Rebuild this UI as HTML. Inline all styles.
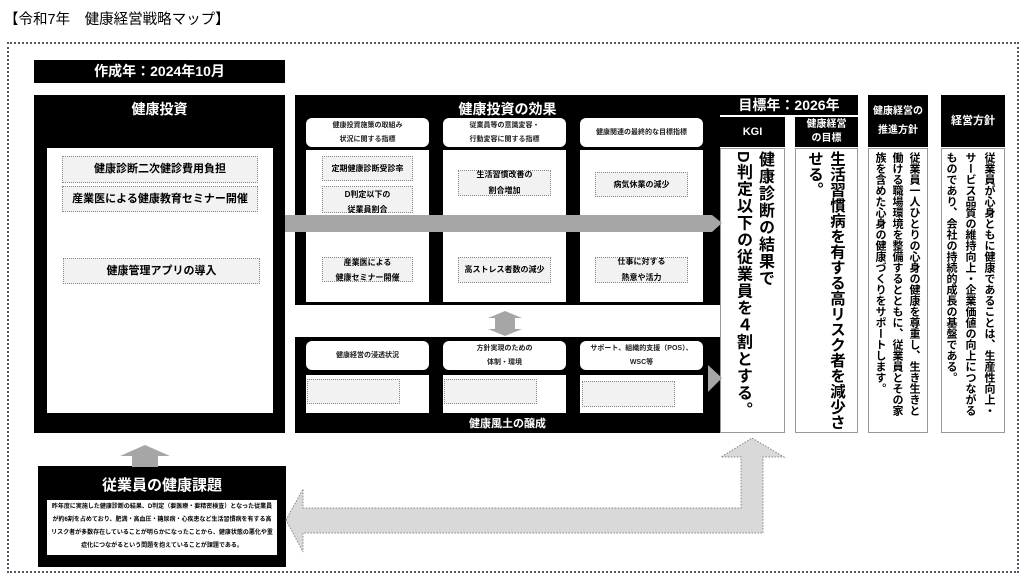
<!DOCTYPE html>
<html><head><meta charset="utf-8"><style>
*{margin:0;padding:0;box-sizing:border-box}
body{width:1024px;height:583px;background:#fff;position:relative;overflow:hidden;font-family:"Liberation Sans","Noto Sans CJK JP",sans-serif;color:#000}
.a{position:absolute}
.blk{background:#000;color:#fff;font-weight:bold;text-align:center}
.wh{background:#fff}
.it{position:absolute;background:#f2f2f2;border:1px dotted #888;font-size:8px;font-weight:bold;display:flex;align-items:center;justify-content:center;text-align:center;line-height:1.9;z-index:3}
.hd{position:absolute;background:#fff;border-radius:6px;font-size:7px;font-weight:bold;display:flex;align-items:center;justify-content:center;text-align:center;line-height:2;color:#222}
.v{position:absolute;writing-mode:vertical-rl;font-weight:bold;background:#fff;border:1px solid #999;white-space:nowrap}
</style></head><body>
<div class="a" style="left:4px;top:8px;font-size:14.5px">【令和7年　健康経営戦略マップ】</div>
<div class="a" style="left:7px;top:42px;width:1012px;height:531px;border:2px dotted #556"></div>

<div class="a blk" style="left:34px;top:60px;width:251px;height:23px;font-size:14px;line-height:23px">作成年：2024年10月</div>
<div class="a blk" style="left:34px;top:95px;width:251px;height:338px;font-size:14px;padding-top:4px">健康投資</div>
<div class="a wh" style="left:47px;top:148px;width:226px;height:265px"></div>
<div class="it" style="left:62px;top:156px;width:196px;height:27px;font-size:11px">健康診断二次健診費用負担</div>
<div class="it" style="left:62px;top:186px;width:196px;height:26px;font-size:11px">産業医による健康教育セミナー開催</div>
<div class="it" style="left:63px;top:258px;width:197px;height:26px;font-size:11px">健康管理アプリの導入</div>

<div class="a blk" style="left:38px;top:466px;width:248px;height:101px;font-size:15px;padding-top:8px">従業員の健康課題</div>
<div class="a wh" style="left:47px;top:500px;width:230px;height:55px;font-size:6px;font-weight:bold;line-height:13px;text-align:center;padding:1px 3px">昨年度に実施した健康診断の結果、D判定（要医療・要精密検査）となった従業員が約6割を占めており、肥満・高血圧・糖尿病・心疾患など生活習慣病を有する高リスク者が多数存在していることが明らかになったことから、健康状態の悪化や重症化につながるという問題を抱えていることが課題である。</div>

<div class="a blk" style="left:295px;top:95px;width:425px;height:210px;font-size:14px;padding-top:4px">健康投資の効果</div>
<div class="hd" style="left:306px;top:118px;width:123px;height:29px">健康投資施策の取組み<br>状況に関する指標</div>
<div class="hd" style="left:443px;top:118px;width:123px;height:29px">従業員等の意識変容・<br>行動変容に関する指標</div>
<div class="hd" style="left:580px;top:118px;width:123px;height:29px">健康関連の最終的な目標指標</div>
<div class="a wh" style="left:306px;top:150px;width:123px;height:152px"></div>
<div class="a wh" style="left:443px;top:150px;width:123px;height:152px"></div>
<div class="a wh" style="left:580px;top:150px;width:123px;height:152px"></div>
<div class="it" style="left:322px;top:156px;width:91px;height:25px">定期健康診断受診率</div>
<div class="it" style="left:322px;top:186px;width:91px;height:27px;align-items:flex-start;line-height:15px">D判定以下の<br>従業員割合</div>
<div class="it" style="left:322px;top:257px;width:91px;height:25px;line-height:15px">産業医による<br>健康セミナー開催</div>
<div class="it" style="left:458px;top:170px;width:93px;height:26px;line-height:16px">生活習慣改善の<br>割合増加</div>
<div class="it" style="left:458px;top:257px;width:93px;height:26px">高ストレス者数の減少</div>
<div class="it" style="left:595px;top:172px;width:93px;height:25px">病気休業の減少</div>
<div class="it" style="left:595px;top:257px;width:93px;height:26px;line-height:16px">仕事に対する<br>熱意や活力</div>

<div class="a blk" style="left:295px;top:337px;width:425px;height:96px"></div>
<div class="hd" style="left:306px;top:341px;width:123px;height:29px">健康経営の浸透状況</div>
<div class="hd" style="left:443px;top:341px;width:123px;height:29px">方針実現のための<br>体制・環境</div>
<div class="hd" style="left:580px;top:341px;width:123px;height:29px">サポート、組織的支援（POS）、<br>WSC等</div>
<div class="a wh" style="left:306px;top:375px;width:123px;height:38px"></div>
<div class="a wh" style="left:443px;top:375px;width:123px;height:38px"></div>
<div class="a wh" style="left:580px;top:375px;width:123px;height:38px"></div>
<div class="it" style="left:307px;top:379px;width:93px;height:25px"></div>
<div class="it" style="left:444px;top:379px;width:93px;height:25px"></div>
<div class="it" style="left:582px;top:381px;width:93px;height:26px"></div>
<div class="a" style="left:295px;top:415px;width:425px;text-align:center;color:#fff;font-weight:bold;font-size:11px">健康風土の醸成</div>

<div class="a blk" style="left:720px;top:95px;width:138px;height:20px;font-size:14px;line-height:20px">目標年：2026年</div>
<div class="a blk" style="left:720px;top:117px;width:65px;height:30px;font-size:11px;line-height:30px">KGI</div>
<div class="a blk" style="left:795px;top:117px;width:63px;height:30px;font-size:10px;line-height:14px;padding-top:1px">健康経営<br>の目標</div>
<div class="a blk" style="left:868px;top:95px;width:60px;height:52px;font-size:10px;line-height:19px;padding-top:7px">健康経営の<br>推進方針</div>
<div class="a blk" style="left:941px;top:95px;width:64px;height:52px;font-size:11px;line-height:52px">経営方針</div>

<div class="v" style="left:720px;top:148px;width:65px;height:285px;font-size:16px;line-height:22px;padding:2px 9px 0 0;letter-spacing:1px">健康診断の結果で<br>D判定以下の従業員を４割とする。</div>
<div class="v" style="left:795px;top:148px;width:63px;height:285px;font-size:15.5px;line-height:22px;padding:2px 10px 0 0">生活習慣病を有する高リスク者を減少さ<br>せる。</div>
<div class="v" style="left:868px;top:148px;width:60px;height:285px;font-size:11px;line-height:17px;padding:3px 5px 0 0">従業員一人ひとりの心身の健康を尊重し、生き生きと<br>働ける職場環境を整備するとともに、従業員とその家<br>族を含めた心身の健康づくりをサポートします。</div>
<div class="v" style="left:941px;top:148px;width:64px;height:285px;font-size:11px;line-height:19px;padding:3px 6px 0 0">従業員が心身ともに健康であることは、生産性向上・<br>サービス品質の維持向上・企業価値の向上につながる<br>ものであり、会社の持続的成長の基盤である。</div>

<svg class="a" style="left:0;top:0;z-index:5" width="1024" height="583">
<polygon points="145,445 170,456 158,456 158,467 132,467 132,456 120,456" fill="#a6a6a6"/>
<polygon points="285,215 712,215 722,223 712,232 285,232" fill="#a6a6a6"/>
<polygon points="505,311 522,318 515,318 515,329 522,329 505,336 488,329 495,329 495,318 488,318" fill="#a6a6a6"/>
<polygon points="708,365 722,378 708,392" fill="#a6a6a6"/>
<polygon points="286,520 303,489 303,508 741,508 741,457 721,457 752,438 784,457 763,457 763,533 303,533 303,552" fill="#d9d9d9" stroke="#888" stroke-dasharray="1.5,1.5" stroke-width="1"/>
</svg>
</body></html>
